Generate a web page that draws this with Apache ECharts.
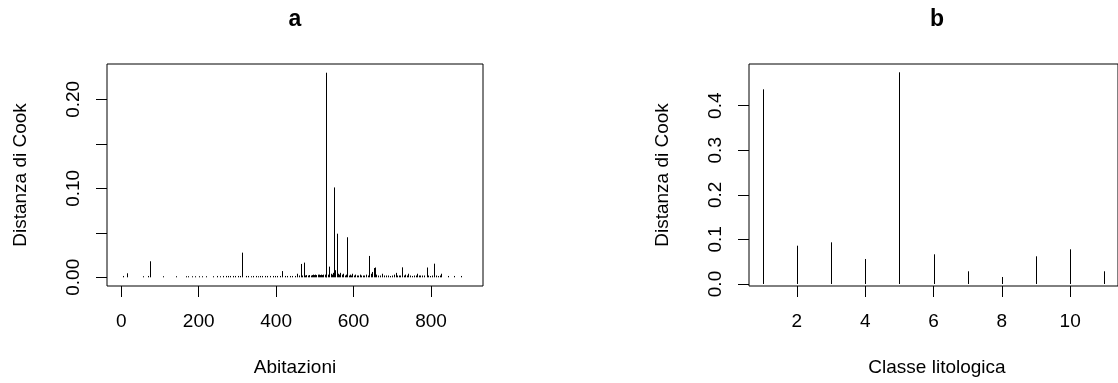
<!DOCTYPE html>
<html>
<head>
<meta charset="utf-8">
<script src="https://cdn.jsdelivr.net/npm/echarts@6/dist/echarts.min.js"></script>
<style>html,body{margin:0;padding:0;background:#fff}#c{width:1118px;height:383px}</style>
</head>
<body>
<div id="c"></div>
<script>
// Panel a: observation index (Abitazioni) and Cook's distance
const houseIdx = [5,15,55,70,74,107,141,166,173,182,190,200,209,218,237,246,255,263,270,276,282,289,295,301,306,313,321,328,334,341,348,354,358,364,371,377,384,391,397,403,409,415,422,428,435,442,448,455,460,465,468,471,475,478,482,486,489,492,495,498,501,504,507,510,513,516,519,522,525,528,530,533,537,541,544,547,550,553,556,559,562,566,569,573,577,580,583,587,590,593,596,600,604,608,612,616,620,624,628,632,636,641,645,648,652,655,659,663,667,673,678,684,690,695,700,705,709,713,718,721,725,729,733,737,741,745,750,755,760,764,768,772,777,782,789,793,797,802,809,813,818,822,827,844,859,877];
const cookA = [0.0015,0.0045,0.0012,0.0015,0.018,0.0012,0.0012,0.0012,0.0012,0.0012,0.0012,0.0012,0.0012,0.0012,0.0012,0.0015,0.0012,0.0015,0.0015,0.0015,0.0015,0.0015,0.0015,0.0015,0.0015,0.0277,0.0015,0.0015,0.0012,0.0015,0.0015,0.0012,0.0015,0.0015,0.0015,0.0015,0.0015,0.0015,0.0015,0.0015,0.0015,0.007,0.0015,0.0015,0.0015,0.0015,0.0015,0.004,0.002,0.015,0.002,0.0165,0.002,0.0025,0.002,0.0025,0.002,0.0025,0.003,0.0025,0.003,0.0025,0.003,0.003,0.0025,0.003,0.0025,0.003,0.003,0.003,0.2299,0.003,0.012,0.004,0.003,0.005,0.101,0.008,0.049,0.004,0.003,0.005,0.003,0.004,0.002,0.003,0.045,0.002,0.003,0.002,0.004,0.002,0.003,0.002,0.002,0.003,0.002,0.002,0.002,0.003,0.002,0.024,0.004,0.006,0.0104,0.011,0.003,0.002,0.002,0.004,0.002,0.002,0.002,0.0015,0.002,0.003,0.005,0.002,0.002,0.002,0.0112,0.002,0.003,0.002,0.004,0.002,0.0015,0.002,0.002,0.004,0.002,0.002,0.002,0.002,0.011,0.002,0.0015,0.002,0.0153,0.002,0.0015,0.002,0.004,0.0015,0.0015,0.0015];

// Panel b: lithological class and Cook's distance
const classIdx = [1,2,3,4,5,6,7,8,9,10,11];
const cookB = [0.4367,0.0859,0.0935,0.0561,0.4749,0.0666,0.0285,0.0157,0.0621,0.0778,0.0285];

const xTicksA = [0,200,400,600,800];
const yTicksA = [0,0.05,0.10,0.15,0.20];
const yLabelsA = [0,0.10,0.20];
const xTicksB = [2,4,6,8,10];
const yTicksB = [0,0.1,0.2,0.3,0.4];

const FONT = "'Liberation Sans', Arial, sans-serif";
const FS = 19;

function spikes(params, api) {
  const p0 = api.coord([api.value(0), 0]);
  const p1 = api.coord([api.value(0), api.value(1)]);
  const x = Math.round(p0[0]) + 0.5;
  return {type:'line', shape:{x1:x, y1:p0[1], x2:x, y2:p1[1]}, style:{stroke:'#000', lineWidth:1}};
}

function xAx(idx, min, max, ticks) {
  return {
    type:'value', gridIndex: idx, min: min, max: max, position:'bottom',
    splitLine:{show:false}, axisLine:{show:false, onZero:false},
    axisTick:{show:true, inside:false, length:11, lineStyle:{color:'#000', width:1}, customValues: ticks},
    axisLabel:{show:true, margin:26, color:'#000', fontSize:FS, fontFamily:FONT, customValues: ticks}
  };
}
function yAx(idx, min, max, ticks, labels, dec) {
  return {
    type:'value', gridIndex: idx, min: min, max: max, position:'left',
    splitLine:{show:false}, axisLine:{show:false, onZero:false},
    axisTick:{show:true, inside:false, length:11, lineStyle:{color:'#000', width:1}, customValues: ticks},
    axisLabel:{show:true, rotate:90, margin:24, color:'#000', fontSize:FS, fontFamily:FONT, customValues: labels,
      formatter: v => Number(v).toFixed(dec)}
  };
}

const chart = echarts.init(document.getElementById('c'), null, {renderer:'canvas'});
chart.setOption({
  animation:false,
  backgroundColor:'#fff',
  grid:[
    {left:107, top:64, width:376, height:222, show:true, borderColor:'#000', borderWidth:1, backgroundColor:'transparent'},
    {left:749, top:64, width:376, height:222, show:true, borderColor:'#000', borderWidth:1, backgroundColor:'transparent'}
  ],
  xAxis:[ xAx(0, -36.9, 934.3, xTicksA), xAx(1, 0.6, 11.4, xTicksB) ],
  yAxis:[ yAx(0, -0.00978, 0.2397, yTicksA, yLabelsA, 2), yAx(1, -0.0045, 0.4935, yTicksB, yTicksB, 1) ],
  series:[
    {type:'custom', xAxisIndex:0, yAxisIndex:0, renderItem: spikes, clip:true,
      data: houseIdx.map((x,i)=>[x, cookA[i]])},
    {type:'custom', xAxisIndex:1, yAxisIndex:1, renderItem: spikes, clip:true,
      data: classIdx.map((x,i)=>[x, cookB[i]])}
  ],
  graphic:[
    {type:'text', x:295, y:20, style:{text:'a', font:"bold 23px "+FONT, fill:'#000', align:'center', verticalAlign:'middle'}},
    {type:'text', x:937, y:20, style:{text:'b', font:"bold 23px "+FONT, fill:'#000', align:'center', verticalAlign:'middle'}},
    {type:'text', x:295, y:368, style:{text:'Abitazioni', font:FS+"px "+FONT, fill:'#000', align:'center', verticalAlign:'middle'}},
    {type:'text', x:937, y:368, style:{text:'Classe litologica', font:FS+"px "+FONT, fill:'#000', align:'center', verticalAlign:'middle'}},
    {type:'text', x:21, y:175, rotation:Math.PI/2, style:{text:'Distanza di Cook', font:FS+"px "+FONT, fill:'#000', align:'center', verticalAlign:'middle'}},
    {type:'text', x:663, y:175, rotation:Math.PI/2, style:{text:'Distanza di Cook', font:FS+"px "+FONT, fill:'#000', align:'center', verticalAlign:'middle'}}
  ]
});
</script>
</body>
</html>
